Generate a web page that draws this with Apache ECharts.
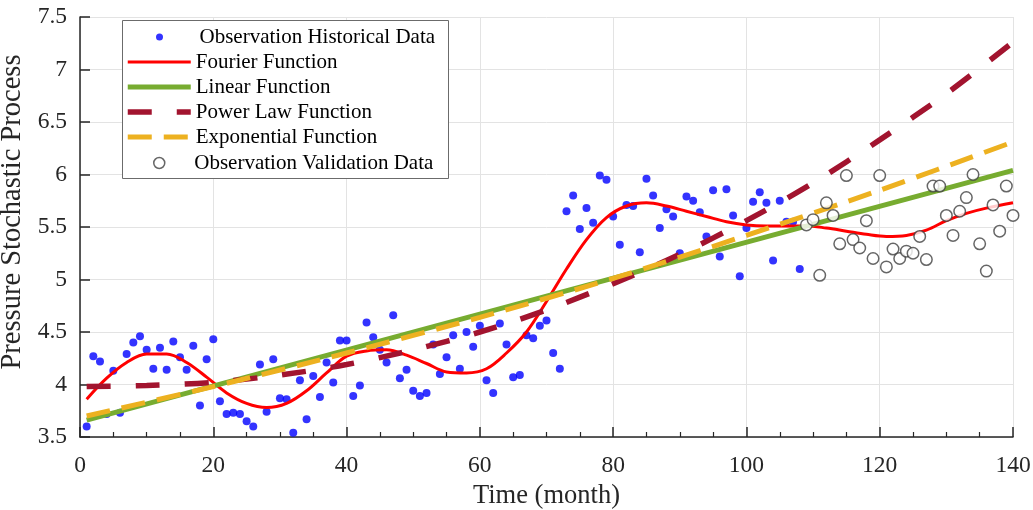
<!DOCTYPE html>
<html>
<head>
<meta charset="utf-8">
<script src="https://cdn.jsdelivr.net/npm/echarts@6/dist/echarts.min.js"></script>
<style>
  html, body { margin: 0; padding: 0; background: #fff; }
  #chart { width: 1033px; height: 510px; }
</style>
</head>
<body>
<div id="chart"></div>
<script>
// ---------------- data ----------------
const histStartMonth = 1;
const histValues = [
  3.60, 4.27, 4.22, 3.72, 4.13, 3.73, 4.29, 4.40, 4.46, 4.33,
  4.15, 4.35, 4.14, 4.41, 4.26, 4.14, 4.37, 3.80, 4.24, 4.43,
  3.84, 3.72, 3.73, 3.72, 3.65, 3.60, 4.19, 3.74, 4.24, 3.87,
  3.86, 3.54, 4.04, 3.67, 4.08, 3.88, 4.21, 4.02, 4.42, 4.42,
  3.89, 3.99, 4.59, 4.45, 4.33, 4.21, 4.66, 4.06, 4.14, 3.94,
  3.89, 3.92, 4.38, 4.10, 4.26, 4.47, 4.15, 4.50, 4.36, 4.56,
  4.04, 3.92, 4.58, 4.38, 4.07, 4.09, 4.47, 4.44, 4.56, 4.61,
  4.30, 4.15, 5.65, 5.80, 5.48, 5.68, 5.54, 5.99, 5.95, 5.60,
  5.33, 5.71, 5.70, 5.26, 5.96, 5.80, 5.49, 5.67, 5.60, 5.25,
  5.79, 5.75, 5.64, 5.41, 5.85, 5.22, 5.86, 5.61, 5.03, 5.49,
  5.74, 5.83, 5.73, 5.18, 5.75, 5.55, 5.55, 5.10
];
const validStartMonth = 109;
const validValues = [
  5.52, 5.57, 5.04, 5.73, 5.61, 5.34, 5.99, 5.38, 5.30, 5.56,
  5.20, 5.99, 5.12, 5.29, 5.20, 5.27, 5.25, 5.41, 5.19, 5.89,
  5.89, 5.61, 5.42, 5.65, 5.78, 6.00, 5.34, 5.08, 5.71, 5.46,
  5.89, 5.61
];
const fourierMonths = [1, 4, 7, 10, 13, 16, 19, 22, 25, 28, 31, 34, 37, 40, 43, 46, 49, 52, 55, 58, 61, 64, 67, 70, 73, 76, 79, 82, 85, 88, 91, 94, 97, 100, 103, 106, 109, 112, 115, 118, 121, 124, 127, 130, 133, 136, 140];
const fourierValues = [3.86, 4.06, 4.21, 4.29, 4.29, 4.21, 4.07, 3.92, 3.82, 3.78, 3.82, 3.94, 4.11, 4.27, 4.32, 4.33, 4.28, 4.20, 4.12, 4.11, 4.15, 4.30, 4.50, 4.79, 5.10, 5.38, 5.59, 5.70, 5.73, 5.70, 5.65, 5.60, 5.55, 5.52, 5.51, 5.51, 5.51, 5.49, 5.46, 5.43, 5.41, 5.42, 5.47, 5.56, 5.63, 5.68, 5.73];
const linearMonths = [1, 140];
const linearValues = [3.66, 6.04];
const powerMonths = [1, 10, 20, 30, 40, 50, 60, 70, 80, 90, 100, 110, 120, 130, 140];
const powerValues = [3.98, 3.99, 4.02, 4.09, 4.19, 4.33, 4.50, 4.71, 4.96, 5.24, 5.56, 5.92, 6.33, 6.77, 7.26];
const expMonths = [1, 20, 40, 60, 80, 100, 120, 140];
const expValues = [3.70, 3.98, 4.30, 4.64, 5.01, 5.42, 5.85, 6.31];
const xTicks = { min: 0, max: 140, interval: 20 };
const yTicks = { min: 3.5, max: 7.5, interval: 0.5 };
const names = {
  hist: 'Observation Historical Data',
  fourier: 'Fourier Function',
  linear: 'Linear Function',
  power: 'Power Law Function',
  exp: 'Exponential Function',
  valid: 'Observation Validation Data'
};
// ------------------------------------------------------------------------

const pairs = (xs, ys) => ys.map((v, i) => [xs[i], v]);
const seq = (start, vals) => vals.map((v, i) => [start + i, v]);

const FONT = 'Liberation Serif';
const axisColor = '#262626';
const gridColor = '#e3e3e3';

const chart = echarts.init(document.getElementById('chart'), null, { renderer: 'canvas' });

const legendCommon = {
  orient: 'vertical',
  padding: 0,
  itemGap: 0,
  itemWidth: 60,
  z: 60,
  selectedMode: false,
  textStyle: { fontFamily: FONT, fontSize: 21, color: '#000', lineHeight: 25 }
};

chart.setOption({
  animation: false,
  backgroundColor: '#fff',
  grid: { left: 80, right: 20, top: 17, bottom: 73, containLabel: false, outerBoundsMode: 'none' },
  xAxis: {
    type: 'value',
    min: xTicks.min, max: xTicks.max, interval: xTicks.interval,
    name: 'Time (month)', nameLocation: 'middle', nameGap: 46,
    nameTextStyle: { fontFamily: FONT, fontSize: 26.5, color: '#262626' },
    axisLine: { show: true, onZero: false, lineStyle: { color: axisColor, width: 1.5 } },
    axisTick: { show: true, inside: true, length: 10, lineStyle: { color: axisColor, width: 1.5 } },
    minorTick: { show: true, splitNumber: 4, length: 5, lineStyle: { color: axisColor, width: 1.2 } },
    axisLabel: { fontFamily: FONT, fontSize: 23.5, color: '#262626', margin: 17 },
    splitLine: { show: true, lineStyle: { color: gridColor, width: 1 } }
  },
  yAxis: {
    type: 'value',
    min: yTicks.min, max: yTicks.max, interval: yTicks.interval,
    name: 'Pressure Stochastic Process', nameLocation: 'middle', nameGap: 47,
    nameTextStyle: { fontFamily: FONT, fontSize: 28.5, color: '#262626', padding: [0, 0, 0, 30] },
    axisLine: { show: true, onZero: false, lineStyle: { color: axisColor, width: 1.5 } },
    axisTick: { show: true, inside: true, length: 10, lineStyle: { color: axisColor, width: 1.5 } },
    axisLabel: { fontFamily: FONT, fontSize: 23.5, color: '#262626', margin: 13 },
    splitLine: { show: true, lineStyle: { color: gridColor, width: 1 } }
  },
  legend: [
    Object.assign({}, legendCommon, {
      left: 156, top: 24.5, itemHeight: 7,
      data: [{ name: names.hist, icon: 'circle', itemStyle: { color: '#0000ff' },
               textStyle: { padding: [0, 0, 0, 5] } }]
    }),
    Object.assign({}, legendCommon, {
      left: 125, top: 49.5, itemHeight: 8, itemWidth: 63,
      lineStyle: { width: 'inherit', type: 'inherit' },
      itemStyle: { color: 'rgba(0,0,0,0)', borderWidth: 0, opacity: 0 },
      data: [names.fourier, names.linear, names.power, names.exp]
    }),
    Object.assign({}, legendCommon, {
      left: 153, top: 150.5, itemHeight: 11,
      data: [{ name: names.valid, icon: 'circle',
               itemStyle: { color: '#ffffff', borderColor: '#404040', borderWidth: 1.5 } }]
    })
  ],
  graphic: [{
    type: 'rect', left: 122, top: 20, z: 50,
    shape: { width: 326, height: 158 },
    style: { fill: '#ffffff', stroke: '#6b6b6b', lineWidth: 1 }
  }],
  series: [
    {
      name: names.hist, type: 'scatter', z: 1,
      data: seq(histStartMonth, histValues),
      symbol: 'circle', symbolSize: 8,
      itemStyle: { color: '#0000ff' }
    },
    {
      name: names.fourier, type: 'line', z: 2,
      data: pairs(fourierMonths, fourierValues),
      symbol: 'none', smooth: 0.35,
      lineStyle: { color: '#ff0000', width: 3 }
    },
    {
      name: names.linear, type: 'line', z: 3,
      data: pairs(linearMonths, linearValues),
      symbol: 'none',
      lineStyle: { color: '#77ac30', width: 5 }
    },
    {
      name: names.power, type: 'line', z: 4,
      data: pairs(powerMonths, powerValues),
      symbol: 'none', smooth: 0.3,
      lineStyle: { color: '#a2142f', width: 5.5, type: [24, 25] }
    },
    {
      name: names.exp, type: 'line', z: 5,
      data: pairs(expMonths, expValues),
      symbol: 'none', smooth: 0.3,
      lineStyle: { color: '#edb120', width: 5, type: [24, 12] }
    },
    {
      name: names.valid, type: 'scatter', z: 6,
      data: seq(validStartMonth, validValues),
      symbol: 'circle', symbolSize: 11.5,
      itemStyle: { color: '#ffffff', borderColor: '#404040', borderWidth: 1.5 }
    }
  ]
});
</script>
</body>
</html>
